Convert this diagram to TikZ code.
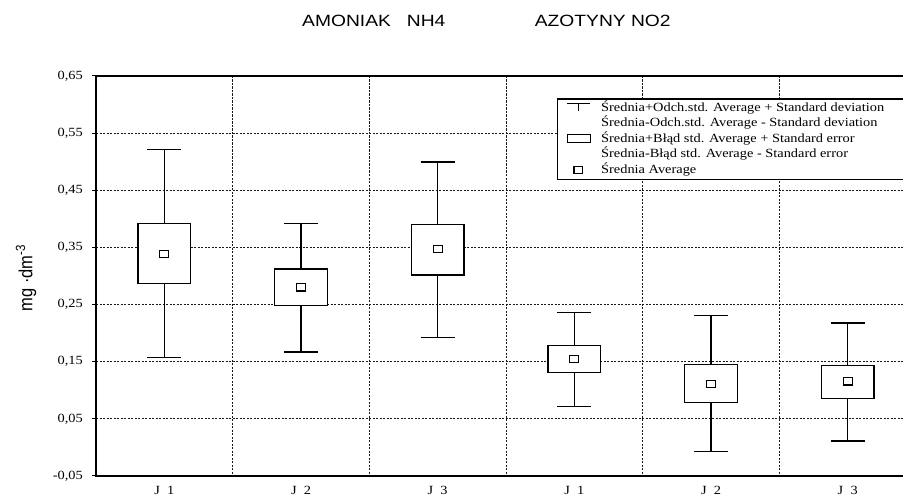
\documentclass[tikz,border=0pt]{standalone}
\usepackage{fontspec}
\setmainfont{Liberation Serif}
\newfontfamily\arialf{Liberation Sans}
\newcommand{\hstr}[1]{\scalebox{1.15}[1]{#1}}
\begin{document}
\begin{tikzpicture}[x=1pt,y=-1pt,
  gridl/.style={draw=black!90, line width=0.8pt, dash pattern=on 2.2pt off 1.3pt},
  axisline/.style={draw=black, line width=1.4pt},
  boxst/.style={draw=black, line width=1.3pt, fill=white},
  whisk/.style={draw=black, line width=1.3pt},
  ticklab/.style={font=\fontsize{12.5}{14}\selectfont, anchor=east, inner sep=0pt},
  xlab/.style={font=\fontsize{12.5}{14}\selectfont, inner sep=0pt},
  legtxt/.style={font=\fontsize{12.5}{14}\selectfont, anchor=west, inner sep=0pt},
  titletxt/.style={font=\arialf\fontsize{16.3}{18}\selectfont, anchor=west, inner sep=0pt}]
\useasboundingbox (0,0) rectangle (903,495);
\fill[white] (0,0) rectangle (903,495);
\begin{scope}
\clip (0,0) rectangle (903,495);
% horizontal grid
\foreach \k in {1,...,6} \draw[gridl] (96,{76+\k*57.14}) -- (916,{76+\k*57.14});
% vertical grid
\foreach \k in {1,...,5} \draw[gridl] ({96+\k*136.67},76) -- ({96+\k*136.67},476);
% ticks on y axis
\foreach \k in {0,...,7} \draw[line width=1pt] (92,{76+\k*57.14}) -- (96,{76+\k*57.14});
% frame
\draw[axisline] (916,76) -- (96,76) -- (96,476) -- (916,476);
% box plots
\foreach \cx/\ct/\bt/\m/\bb/\cb in {
  164.3/149.7/223.3/254/283.3/357.3,
  301/223.3/269/287.3/305.7/352,
  437.7/162/224.7/249/275/337.7,
  574.3/312.7/345.7/359/372.7/406.7,
  711/315.7/364.3/384/402.3/451.7,
  847.7/323/365.7/381.3/398.7/441}{
  \draw[whisk] ({\cx-17},\ct) -- ({\cx+17},\ct);
  \draw[whisk] (\cx,\ct) -- (\cx,\bt);
  \draw[whisk] (\cx,\bb) -- (\cx,\cb);
  \draw[whisk] ({\cx-17},\cb) -- ({\cx+17},\cb);
  \draw[boxst] ({\cx-26.3},\bt) rectangle ({\cx+26.3},\bb);
  \draw[boxst] ({\cx-4.5},{\m-3.8}) rectangle ({\cx+4.5},{\m+3.8});
}
% legend
\draw[boxst] (557.3,99) rectangle (940,179.3);
\draw[whisk] (567,103.7) -- (590,103.7);
\draw[whisk] (578.5,103.7) -- (578.5,111.5);
\draw[boxst] (567.3,134.3) rectangle (590.3,142.7);
\draw[boxst] (574,166.8) rectangle (582.3,173.5);
\node[legtxt] (l1) at (601,107.3) {\hstr{Średnia+Odch.std. Average + Standard deviation}};
\node[legtxt] (l2) at (601,122.5) {\hstr{Średnia-Odch.std. Average - Standard deviation}};
\node[legtxt] (l3) at (601,138.5) {\hstr{Średnia+Błąd std. Average + Standard error}};
\node[legtxt] (l4) at (601,153.7) {\hstr{Średnia-Błąd std. Average - Standard error}};
\node[legtxt] (l5) at (601,169.3) {\hstr{Średnia Average}};
\end{scope}
% y tick labels
\node[ticklab] (t65) at (83,76) {\hstr{0,65}};
\node[ticklab] (t55) at (83,133.14) {\hstr{0,55}};
\node[ticklab] (t45) at (83,190.28) {\hstr{0,45}};
\node[ticklab] (t35) at (83,247.42) {\hstr{0,35}};
\node[ticklab] (t25) at (83,304.56) {\hstr{0,25}};
\node[ticklab] (t15) at (83,361.7) {\hstr{0,15}};
\node[ticklab] (t05) at (83,418.84) {\hstr{0,05}};
\node[ticklab] (tm05) at (83,476) {\hstr{-0,05}};
% x labels
\node[xlab] (x1) at (164.3,490) {\hstr{J\enspace 1}};
\node[xlab] (x2) at (301,490) {\hstr{J\enspace 2}};
\node[xlab] (x3) at (437.7,490) {\hstr{J\enspace 3}};
\node[xlab] (x4) at (574.3,490) {\hstr{J\enspace 1}};
\node[xlab] (x5) at (711,490) {\hstr{J\enspace 2}};
\node[xlab] (x6) at (847.7,490) {\hstr{J\enspace 3}};
% titles
\node[titletxt] (ti1) at (302,20.7) {\scalebox{1.18}[1]{AMONIAK\ \ \ NH4}};
\node[titletxt] (ti2) at (534.7,20.7) {\scalebox{1.18}[1]{AZOTYNY NO2}};
% y axis label
\node[rotate=90, font=\arialf\fontsize{16.5}{18}\selectfont, inner sep=0pt] (ylab) at (26,278) {\scalebox{1}[1.15]{mg ·dm\textsuperscript{-3}}};
\end{tikzpicture}
\end{document}
